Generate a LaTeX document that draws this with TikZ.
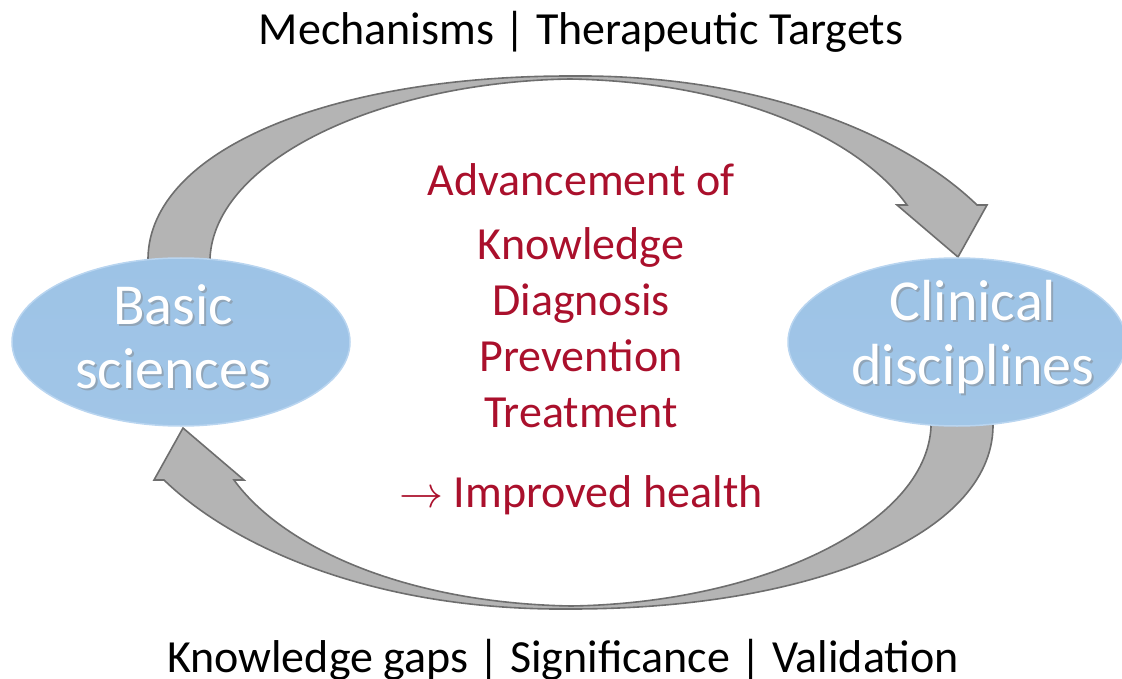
\documentclass[tikz,border=0pt]{standalone}
\usepackage{graphicx}
\usepackage{fontspec}
\setmainfont{Carlito}
\usetikzlibrary{shapes.geometric}

\definecolor{darkred}{RGB}{170,16,44}
\definecolor{ovalblue}{RGB}{157,195,230}
\definecolor{ovaledge}{RGB}{185,213,240}
\definecolor{arrowgray}{RGB}{180,180,180}
\definecolor{arrowedge}{RGB}{110,110,110}

\tikzset{
  oval/.style={ellipse, minimum width=338pt, minimum height=168pt, inner sep=0pt,
    top color=ovalblue, bottom color=ovalblue!85!ovaledge, draw=ovaledge, line width=1.5pt},
  ovaltext/.style={align=center, text=white, font=\fontsize{58}{64}\selectfont},
  ovalshadow/.style={align=center, text=black!50, opacity=0.45, font=\fontsize{58}{64}\selectfont},
  redtext/.style={anchor=base, text=darkred, font=\fontsize{46}{52}\selectfont},
  blacktext/.style={anchor=base, text=black, font=\fontsize{46}{52}\selectfont},
  arrowbody/.style={fill=arrowgray, draw=arrowedge, line width=1.6pt, line join=miter}
}

\begin{document}
\begin{tikzpicture}[x=1pt,y=-1pt]
\useasboundingbox (0,0) rectangle (1122,679);

% the two curved arrows, second one turned half round
\foreach \turn in {0,180}{
  \draw[arrowbody, rotate around={\turn:(570.5,342.5)}]
    (148,300) -- (148,258)
    .. controls (150,150) and (330,76) .. (570,76)
    .. controls (770,74) and (910,140) .. (977,205)
    -- (987,205) -- (958,257) -- (897,205) -- (907,205)
    .. controls (860,140) and (740,82) .. (570,79)
    .. controls (380,82) and (215,160) .. (210,258)
    -- (210,300) -- cycle;
}

\node[oval] (basic) at (181,342) {};
\node[oval] (clinical) at (957,342) {};
\node[ovalshadow] at (175,339) {Basic\\sciences};
\node[ovaltext] (basictext) at (173,337) {Basic\\sciences};
\node[ovalshadow] at (975,339) {Clinical\\disciplines};
\node[ovaltext] (clinicaltext) at (973,337) {Clinical\\disciplines};

\node[blacktext] (top) at (581,45) {Mechanisms | Therapeutic Targets};
\node[blacktext] (bottom) at (563,672) {Knowledge gaps | Significance | Validation};

\node[redtext] (adv) at (581,196) {Advancement of};
\node[redtext] (know) at (581,259) {Knowledge};
\node[redtext] (diag) at (581,315) {Diagnosis};
\node[redtext] (prev) at (581,371) {Prevention};
\node[redtext] (treat) at (581,427) {Treatment};
\node[redtext] (health) at (581,507) {{\fontsize{10}{12}\selectfont\scalebox{4.4}{$\rightarrow$}} Improved health};
\end{tikzpicture}
\end{document}
